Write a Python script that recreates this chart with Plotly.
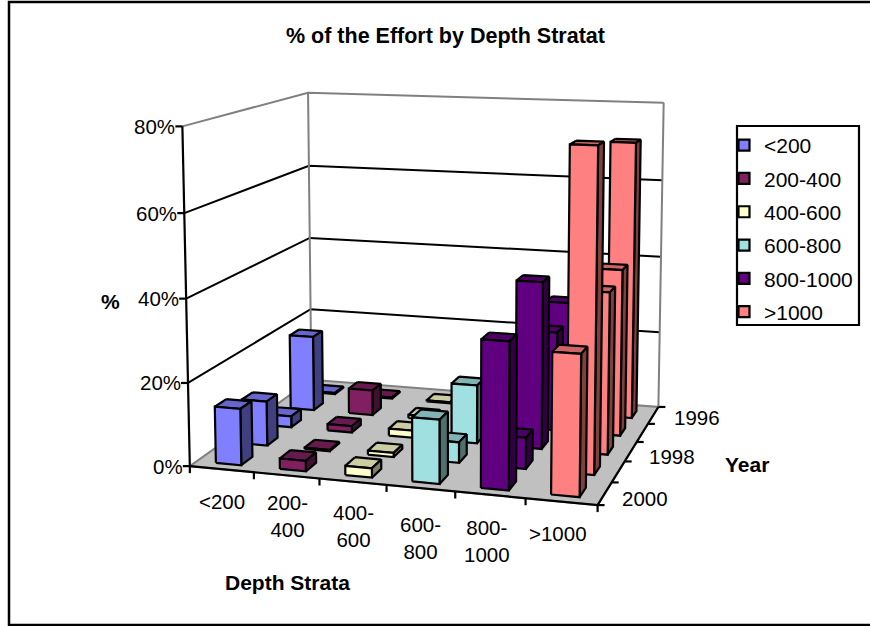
import numpy as np
import plotly.graph_objects as go

# ---- data (percent of effort) ----
depth_strata = ["<200", "200-400", "400-600", "600-800", "800-1000", ">1000"]
category_labels = ["<200", "200-<br>400", "400-<br>600", "600-<br>800", "800-<br>1000", ">1000"]
years = [2000, 1999, 1998, 1997, 1996]
shown_years = [1996, 1998, 2000]
pct_lt200 = [13.6, 11.0, 2.8, 19.5, 0.3]
pct_200_400 = [2.5, 0.3, 1.6, 6.5, 0.3]
pct_400_600 = [2.2, 1.0, 1.8, 0.8, 0.3]
pct_600_800 = [15.0, 5.0, 14.5, 0.0, 0.0]
pct_800_1000 = [34.2, 7.5, 41.0, 25.0, 29.0]
pct_gt1000 = [32.5, 76.4, 39.5, 41.7, 71.0]
series_values = [pct_lt200, pct_200_400, pct_400_600, pct_600_800, pct_800_1000, pct_gt1000]
value_ticks = [0, 20, 40, 60, 80]

front_colors = ["#8080FF", "#802060", "#FFFFCC", "#A0E0E0", "#600080", "#FF8080"]
top_colors = ["#6666CC", "#661A4D", "#CCCCA3", "#80B3B3", "#4D0066", "#CC6666"]
side_colors = ["#404080", "#401030", "#808066", "#507070", "#300040", "#804040"]

FONT = "Liberation Sans, Arial, sans-serif"
X_INSET, BAR_W = 0.3, 0.4     # bar placement inside a category cell
Y_INSET, BAR_D = 0.25, 0.42   # bar placement inside a year cell

# ---- camera of the 3-D box, solved from where the box's ticks and corners sit on the page ----
anchors = [((0, 0, 0), (191, 466)), ((1, 0, 0), (255, 472)), ((2, 0, 0), (319, 478)),
           ((3, 0, 0), (385, 485)), ((4, 0, 0), (453, 490)), ((5, 0, 0), (523, 497)),
           ((6, 0, 0), (596, 505)), ((6, 1, 0), (615, 483)), ((6, 2, 0), (628, 462)),
           ((6, 3, 0), (640, 442)), ((6, 4, 0), (648, 423)), ((6, 5, 0), (657, 407)),
           ((0, 5, 0), (310, 381)), ((0, 0, 20), (189, 385)), ((0, 0, 40), (186.5, 300)),
           ((0, 0, 60), (184, 213)), ((0, 0, 80), (181, 126)), ((0, 5, 80), (309, 92)),
           ((0, 5, 60), (310, 165)), ((0, 5, 40), (310, 237)), ((0, 5, 20), (310, 309)),
           ((6, 5, 20), (658, 333)), ((6, 5, 40), (660, 257)), ((6, 5, 60), (662, 180)),
           ((6, 5, 80), (664, 104))]
A, b = [], []
for (X, Y, Z), (u, v) in anchors:
    A.append([X, Y, Z, 1, 0, 0, 0, 0, -u * X, -u * Y, -u * Z]); b.append(u)
    A.append([0, 0, 0, 0, X, Y, Z, 1, -v * X, -v * Y, -v * Z]); b.append(v)
P = np.append(np.linalg.lstsq(np.array(A, float), np.array(b, float), rcond=None)[0], 1).reshape(3, 4)


def proj(x, y, z):
    h = P @ np.array([x, y, z, 1.0])
    return h[0] / h[2], h[1] / h[2]


def path(points):
    pts = [proj(*p) for p in points]
    return [p[0] for p in pts], [p[1] for p in pts]


fig = go.Figure()


def poly(points, fill=None, line="#000000", width=2.2):
    xs, ys = path(points)
    fig.add_trace(go.Scatter(
        x=xs, y=ys, mode="lines", showlegend=False, hoverinfo="skip",
        fill="toself" if fill else None, fillcolor=fill,
        line=dict(color=line, width=width)))


# walls and floor
poly([(0, 0, 0), (0, 5, 0), (6, 5, 0), (6, 0, 0), (0, 0, 0)], fill="#C0C0C0", line="#808080", width=2)
for z in value_ticks[1:]:
    c = "#808080" if z == 80 else "#000000"
    poly([(0, 0, z), (0, 5, z), (6, 5, z)], line=c, width=2)
poly([(0, 5, 0), (0, 5, 80)], line="#808080", width=2)
poly([(6, 5, 0), (6, 5, 80)], line="#808080", width=2)

# axes
poly([(0, 0, 0), (0, 0, 80)])
poly([(0, 0, 0), (6, 0, 0), (6, 5, 0)])
tx, ty = [], []
for k in range(7):
    u, v = proj(k, 0, 0)
    tx += [u, u, None]; ty += [v, v + 7, None]
for j in range(6):
    u, v = proj(6, j, 0)
    tx += [u, u + 7, None]; ty += [v, v, None]
for z in value_ticks:
    u, v = proj(0, 0, z)
    tx += [u - 7, u, None]; ty += [v, v, None]
fig.add_trace(go.Scatter(x=tx, y=ty, mode="lines", showlegend=False, hoverinfo="skip",
                         line=dict(color="#000000", width=2.2)))

# bars, back row first and left to right so nearer bars hide farther ones
for j in reversed(range(len(years))):
    for i in range(len(depth_strata)):
        h = series_values[i][j]
        if h <= 0:
            continue
        x0, x1 = i + X_INSET, i + X_INSET + BAR_W
        y0, y1 = j + Y_INSET, j + Y_INSET + BAR_D
        poly([(x0, y1, h), (x1, y1, h), (x1, y0, h), (x0, y0, h), (x0, y1, h)], fill=top_colors[i])
        poly([(x1, y0, 0), (x1, y1, 0), (x1, y1, h), (x1, y0, h), (x1, y0, 0)], fill=side_colors[i])
        poly([(x0, y0, 0), (x1, y0, 0), (x1, y0, h), (x0, y0, h), (x0, y0, 0)], fill=front_colors[i])

# legend entries
for name, color in zip(depth_strata, front_colors):
    fig.add_trace(go.Scatter(x=[None], y=[None], mode="markers", name=name, legendgroup=name,
                             marker=dict(symbol="square", size=11, color=color,
                                         line=dict(color="#000000", width=2.2))))


def label(x, y, text, size=20.5, bold=False, xanchor="center"):
    fig.add_annotation(x=x, y=y, xref="x", yref="y", text=f"<b>{text}</b>" if bold else text,
                       showarrow=False, xanchor=xanchor, yanchor="middle",
                       font=dict(family=FONT, size=size, color="#000000"))


for z in value_ticks:
    u, v = proj(0, 0, z)
    label(u - 5, v, f"{z}%", xanchor="right")
for text, (u, v) in zip(category_labels, [(222, 501), (287, 516), (353, 526), (420, 538), (487, 541), (558, 533)]):
    label(u, v, text)
for yr, (u, v) in zip(shown_years, [(697, 417), (672, 456), (645, 498)]):
    label(u, v, str(yr))
label(445, 36, "% of the Effort by Depth Stratat", size=21.5, bold=True)
label(110, 301, "%", size=21, bold=True)
label(747, 464, "Year", size=21, bold=True)
label(287, 582, "Depth Strata", size=21, bold=True)

fig.update_layout(
    width=870, height=626, margin=dict(l=0, r=0, t=0, b=0), autosize=False,
    paper_bgcolor="#FFFFFF", plot_bgcolor="#FFFFFF",
    xaxis=dict(range=[0, 870], visible=False, fixedrange=True),
    yaxis=dict(range=[626, 0], visible=False, fixedrange=True),
    legend=dict(x=724 / 870, y=1 - 125 / 626, xanchor="left", yanchor="top",
                bgcolor="rgba(0,0,0,0)", tracegroupgap=3,
                font=dict(family=FONT, size=21, color="#000000")),
    shapes=[
        dict(type="rect", xref="x", yref="y", x0=9, y0=2, x1=880, y1=625,
             line=dict(color="#000000", width=2.5), layer="below"),
        dict(type="rect", xref="x", yref="y", x0=737, y0=126, x1=859, y1=325,
             line=dict(color="#000000", width=2.2), layer="below"),
    ],
)
fig.write_html("out.html", config={"displayModeBar": False},
               post_script="document.body.style.margin='0';")
